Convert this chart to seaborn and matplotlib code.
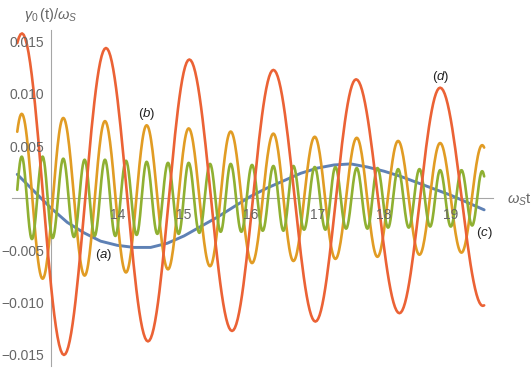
import numpy as np
import pandas as pd
import matplotlib
matplotlib.use("Agg")
import matplotlib.pyplot as plt
import seaborn as sns

# ---------------- data ----------------
# (a) slow curve, sampled every 0.25 in omega_S t
a_t = [12.5, 12.75, 13.0, 13.25, 13.5, 13.75, 14.0, 14.25, 14.5, 14.75, 15.0,
       15.25, 15.5, 15.75, 16.0, 16.25, 16.5, 16.75, 17.0, 17.25, 17.5, 17.75,
       18.0, 18.25, 18.5, 18.75, 19.0, 19.25, 19.5]
a_v = [0.0023, 0.0007, -0.0009, -0.0023, -0.0033, -0.0041, -0.0045, -0.0047,
       -0.0047, -0.0043, -0.0036, -0.0027, -0.0018, -0.0008, 0.0002, 0.0010,
       0.0017, 0.0024, 0.0029, 0.0032, 0.0033, 0.0030, 0.0026, 0.0021, 0.0015,
       0.0009, 0.0003, -0.0004, -0.0011]

# (b) extrema (peaks then troughs)
b_peak_t = [12.567, 13.19, 13.815, 14.44, 15.07, 15.70, 16.34, 16.96, 17.59,
            18.21, 18.84, 19.47]
b_peak_v = [0.0081, 0.0077, 0.0074, 0.0070, 0.0067, 0.0064, 0.0062, 0.0059,
            0.0058, 0.0055, 0.0053, 0.0051]
b_trough_t = [12.88, 13.51, 14.13, 14.76, 15.39, 16.02, 16.64, 17.27, 17.90,
              18.53, 19.16]
b_trough_v = [-0.0077, -0.0074, -0.0071, -0.0068, -0.0065, -0.0062, -0.0060,
              -0.0058, -0.0056, -0.0054, -0.0052]

# (c) extrema
c_peak_t = [12.567, 12.88, 13.19, 13.51, 13.815, 14.13, 14.44, 14.76, 15.07,
            15.39, 15.70, 16.02, 16.34, 16.64, 16.96, 17.27, 17.59, 17.90,
            18.21, 18.53, 18.84, 19.16, 19.47]
c_peak_v = [0.0040, 0.0040, 0.0038, 0.0037, 0.0037, 0.0036, 0.0035, 0.0034,
            0.0034, 0.0033, 0.0033, 0.0032, 0.0031, 0.0031, 0.0030, 0.0030,
            0.0029, 0.0029, 0.0028, 0.0028, 0.0027, 0.0027, 0.0026]
c_trough_t = [12.72, 13.03, 13.35, 13.66, 13.97, 14.29, 14.60, 14.92, 15.23,
              15.55, 15.86, 16.18, 16.49, 16.80, 17.12, 17.43, 17.75, 18.06,
              18.37, 18.69, 19.00, 19.32]
c_trough_v = [-0.0039, -0.0038, -0.0037, -0.0036, -0.0036, -0.0035, -0.0034,
              -0.0034, -0.0033, -0.0032, -0.0032, -0.0031, -0.0031, -0.0030,
              -0.0030, -0.0029, -0.0029, -0.0028, -0.0028, -0.0027, -0.0027,
              -0.0026]

# (d) extrema
d_peak_t = [12.57, 13.83, 15.08, 16.34, 17.58, 18.84]
d_peak_v = [0.0158, 0.0144, 0.0133, 0.0123, 0.0114, 0.0106]
d_trough_t = [13.20, 14.46, 15.72, 16.97, 18.23, 19.48]
d_trough_v = [-0.0150, -0.0137, -0.0127, -0.0118, -0.0110, -0.0103]

t_start, t_end = 12.5, 19.5

x_major = [14, 15, 16, 17, 18, 19]
x_major_labels = ["14", "15", "16", "17", "18", "19"]
y_major = [-0.015, -0.010, -0.005, 0.005, 0.010, 0.015]
y_major_labels = ["\u22120.015", "\u22120.010", "\u22120.005", "0.005", "0.010", "0.015"]

curve_labels = ["(a)", "(b)", "(c)", "(d)"]
colors = ["#5E81B5", "#E19C24", "#8FB032", "#EB6235"]


# ---------------- smooth rendering between extrema ----------------
def wave(pt, pv, tt_, tv, n=30):
    ts = np.array(list(pt) + list(tt_))
    vs = np.array(list(pv) + list(tv))
    o = np.argsort(ts)
    ts, vs = ts[o], vs[o]
    xs, ys = [], []
    k = len(ts)
    for i in range(k - 1):
        ta, tb, va, vb = ts[i], ts[i + 1], vs[i], vs[i + 1]
        lo = t_start if i == 0 else ta
        hi = t_end if i == k - 2 else tb
        x = np.linspace(lo, hi, n)
        y = (va + vb) / 2 + (va - vb) / 2 * np.cos(np.pi * (x - ta) / (tb - ta))
        if i > 0:
            x, y = x[1:], y[1:]
        xs.append(x)
        ys.append(y)
    return np.concatenate(xs), np.concatenate(ys)


frames = [pd.DataFrame({"t": a_t, "v": a_v, "curve": curve_labels[0]})]
for lab, (pt, pv, tt_, tv) in zip(curve_labels[1:], [
        (b_peak_t, b_peak_v, b_trough_t, b_trough_v),
        (c_peak_t, c_peak_v, c_trough_t, c_trough_v),
        (d_peak_t, d_peak_v, d_trough_t, d_trough_v)]):
    x, y = wave(pt, pv, tt_, tv)
    frames.append(pd.DataFrame({"t": x, "v": y, "curve": lab}))
df = pd.concat(frames, ignore_index=True)

# ---------------- figure ----------------
sns.set_style("white")
plt.rcParams["font.family"] = ["Liberation Sans", "DejaVu Sans"]
plt.rcParams["mathtext.fontset"] = "custom"
plt.rcParams["mathtext.rm"] = "Liberation Sans"
plt.rcParams["mathtext.it"] = "Liberation Sans:italic"
plt.rcParams["mathtext.default"] = "it"

fig = plt.figure(figsize=(5.31, 3.68), dpi=100)
ax = fig.add_axes([0, 0, 1, 1])
ax.set_facecolor("white")

widths = [2.1, 1.9, 1.9, 1.9]
for lab, col, lw in zip(curve_labels, colors, widths):
    sub = df[df["curve"] == lab]
    sns.lineplot(data=sub, x="t", y="v", color=col, lw=lw, ax=ax,
                 estimator=None, sort=False, legend=False)

ax.set_xlim(12.2414, 20.2024)
ax.set_ylim(-0.01625, 0.019)

axis_col = "#a6a6a6"
text_col = "#666666"
for s in ["top", "right"]:
    ax.spines[s].set_visible(False)
ax.spines["left"].set_position(("data", 13))
ax.spines["bottom"].set_position(("data", 0))
ax.spines["left"].set_bounds(-0.0161, 0.0161)
ax.spines["bottom"].set_bounds(12.42, 19.63)
for s in ["left", "bottom"]:
    ax.spines[s].set_color(axis_col)
    ax.spines[s].set_linewidth(0.8)
    ax.spines[s].set_zorder(0.5)

ax.set_xticks(x_major)
ax.set_xticklabels(x_major_labels)
ax.set_xticks([v for v in np.round(np.arange(12.6, 19.61, 0.2), 2)
               if abs(v - round(v)) > 1e-6], minor=True)
ax.set_yticks(y_major)
ax.set_yticklabels(y_major_labels)
ax.set_yticks([v for v in np.round(np.arange(-0.016, 0.0161, 0.001), 4)
               if abs(v) > 1e-9 and abs(round(v / 0.005) * 0.005 - v) > 1e-9], minor=True)

ax.tick_params(which="both", direction="in", color="#b8b8b8", width=0.8,
               labelcolor=text_col, labelsize=10)
ax.tick_params(which="major", length=3.8)
ax.tick_params(which="minor", length=2.2)
ax.tick_params(axis="y", which="major", pad=4.5)
ax.tick_params(axis="x", which="major", pad=7.0)
ax.set_xlabel("")
ax.set_ylabel("")
ax.grid(False)
ax.set_axisbelow(False)

# axis labels
ax.text(13.0, 0.01755, r"$\gamma_0\,(\mathrm{t})/\omega_S$", ha="center",
        va="center", fontsize=10.5, color=text_col)
ax.text(19.84, -0.0001, r"$\omega_S\mathrm{t}$", ha="left", va="center",
        fontsize=10.5, color=text_col)

# curve labels
label_pos = [(13.80, -0.0054), (14.445, 0.0081), (19.50, -0.0033), (18.853, 0.0116)]
for lab, (tx, ty) in zip(curve_labels, label_pos):
    txt = "$(" + lab[1] + ")$"
    ax.text(tx, ty, txt, ha="center", va="center", fontsize=9.5, color="#222222")

fig.savefig("out.png", dpi=100, facecolor="white")
